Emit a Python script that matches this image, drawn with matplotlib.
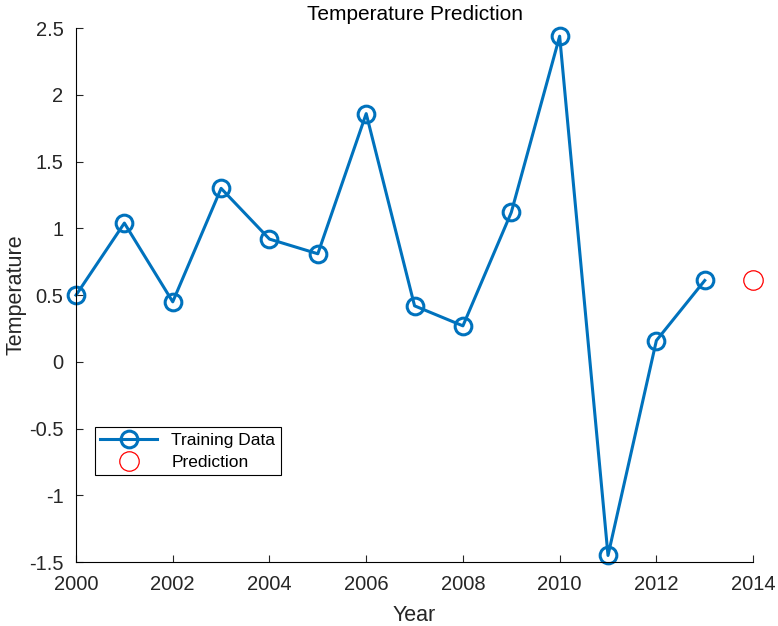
import matplotlib.pyplot as plt

plt.rcParams['font.family'] = ['Liberation Sans', 'DejaVu Sans']

years = [2000, 2001, 2002, 2003, 2004, 2005, 2006, 2007, 2008, 2009, 2010, 2011, 2012, 2013]
temps = [0.50, 1.04, 0.45, 1.30, 0.92, 0.81, 1.86, 0.42, 0.27, 1.12, 2.44, -1.45, 0.16, 0.61]
pred_year = [2014]
pred_temp = [0.61]

fig = plt.figure(figsize=(7.78, 6.26), dpi=100)
ax = fig.add_axes([0.0977, 0.102, 0.8703, 0.853])

ax.plot(years, temps, '-o', color='#0072BD', linewidth=2.2, markersize=12,
        markerfacecolor='none', markeredgewidth=2.2, label='Training Data',
        clip_on=False)
ax.plot(pred_year, pred_temp, 'o', color='red', markersize=14,
        markerfacecolor='none', markeredgewidth=0.9, label='Prediction',
        clip_on=False)

ax.set_xlim(2000, 2014)
ax.set_ylim(-1.5, 2.5)
ax.set_xticks(range(2000, 2015, 2))
ax.set_yticks([-1.5, -1, -0.5, 0, 0.5, 1, 1.5, 2, 2.5])
ax.set_yticklabels(['-1.5', '-1', '-0.5', '0', '0.5', '1', '1.5', '2', '2.5'])
ax.spines['top'].set_visible(False)
ax.spines['right'].set_visible(False)
ax.tick_params(direction='in', labelsize=14.5, colors='#262626', length=5, pad=9)
ax.set_xlabel('Year', fontsize=15.5, color='#262626', labelpad=8)
ax.set_ylabel('Temperature', fontsize=15.5, color='#262626', labelpad=2)
ax.set_title('Temperature Prediction', fontsize=15, pad=6)

leg = ax.legend(loc='lower left', bbox_to_anchor=(0.028, 0.163), fontsize=12.5,
                fancybox=False, edgecolor='black', framealpha=1, borderpad=0.3,
                handlelength=3.3, labelspacing=0.4, borderaxespad=0)
leg.get_frame().set_linewidth(0.8)

fig.savefig('out.png', dpi=100)
